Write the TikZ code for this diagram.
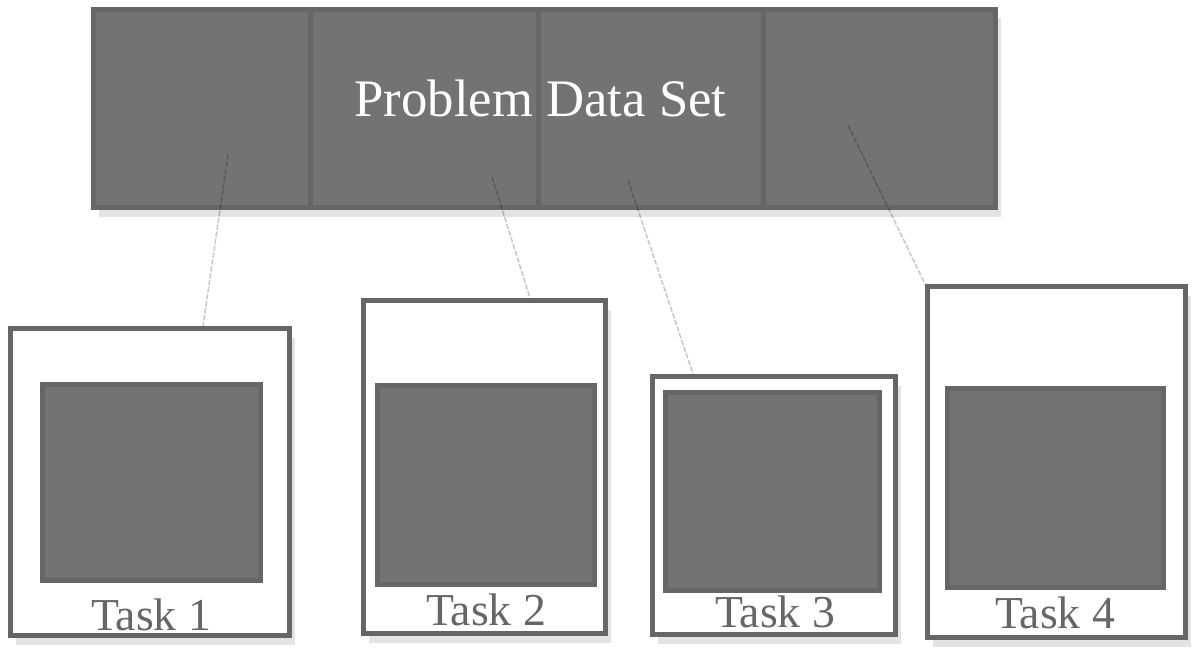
\documentclass[tikz,border=0pt]{standalone}
\usepackage{fontspec}
\setmainfont{Liberation Serif}
\usetikzlibrary{shadows}
\definecolor{cellgray}{HTML}{737373}
\definecolor{edgegray}{HTML}{666666}

\begin{document}
\begin{tikzpicture}[node distance=4.51cm,
        shade/.style={drop shadow={shadow xshift=0.1cm, shadow yshift=-0.18cm, fill=black!22}},
        cell/.style={draw=edgegray, fill=cellgray, line width=0.1cm, inner sep=0pt,
            minimum width=4.51cm, minimum height=3.96cm, shade},
        task/.style={draw=edgegray, fill=white, line width=0.1cm, inner sep=0pt, shade},
        core/.style={draw=edgegray, fill=cellgray, line width=0.1cm, inner sep=0pt},
        tasklabel/.style={text=edgegray, font=\fontsize{26}{30}\selectfont},
        link/.style={black, opacity=0.22, line width=0.03cm, dash pattern=on 3pt off 1pt}]
            \useasboundingbox (0,0) rectangle (24.02,13.18);

            \node (c1) [cell, minimum width=4.33cm] at (4.035,11.01) {};
            \node (c2) [cell, minimum width=4.56cm] at (8.48,11.01) {};
            \node (c3) [cell, minimum width=4.50cm] at (13.01,11.01) {};
            \node (c4) [cell, minimum width=4.65cm] at (17.585,11.01) {};
            \node (title) [text=white, font=\fontsize{30}{34}\selectfont] at (10.81,11.22) {Problem Data Set};

            \node (t1) [task, minimum width=5.58cm, minimum height=6.14cm] at (3.00,3.54) {};
            \node (t2) [task, minimum width=4.84cm, minimum height=6.66cm] at (9.69,3.84) {};
            \node (t3) [task, minimum width=4.86cm, minimum height=5.16cm] at (15.48,3.07) {};
            \node (t4) [task, minimum width=5.16cm, minimum height=7.02cm] at (21.13,3.94) {};

            \node (s1) [core, minimum width=4.36cm, minimum height=3.92cm] at (3.03,3.53) {};
            \node (s2) [core, minimum width=4.34cm, minimum height=3.98cm] at (9.72,3.48) {};
            \node (s3) [core, minimum width=4.28cm, minimum height=3.96cm] at (15.45,3.35) {};
            \node (s4) [core, minimum width=4.32cm, minimum height=3.98cm] at (21.11,3.42) {};

            \node (l1) [tasklabel] at (3.02,0.88) {Task 1};
            \node (l2) [tasklabel] at (9.72,0.98) {Task 2};
            \node (l3) [tasklabel] at (15.5,0.94) {Task 3};
            \node (l4) [tasklabel] at (21.1,0.92) {Task 4};

            \coordinate (a1) at (4.56,10.08);
            \coordinate (a2) at (9.84,9.64);
            \coordinate (a3) at (12.56,9.58);
            \coordinate (a4) at (16.96,10.68);

            \draw[link] (a1) -- ([xshift=1.06cm] t1.north);
            \draw[link] (a2) -- ([xshift=0.91cm] t2.north);
            \draw[link] (a3) -- ([xshift=-1.62cm] t3.north);
            \draw[link] (a4) -- (t4.north west);
        \end{tikzpicture}
\end{document}
